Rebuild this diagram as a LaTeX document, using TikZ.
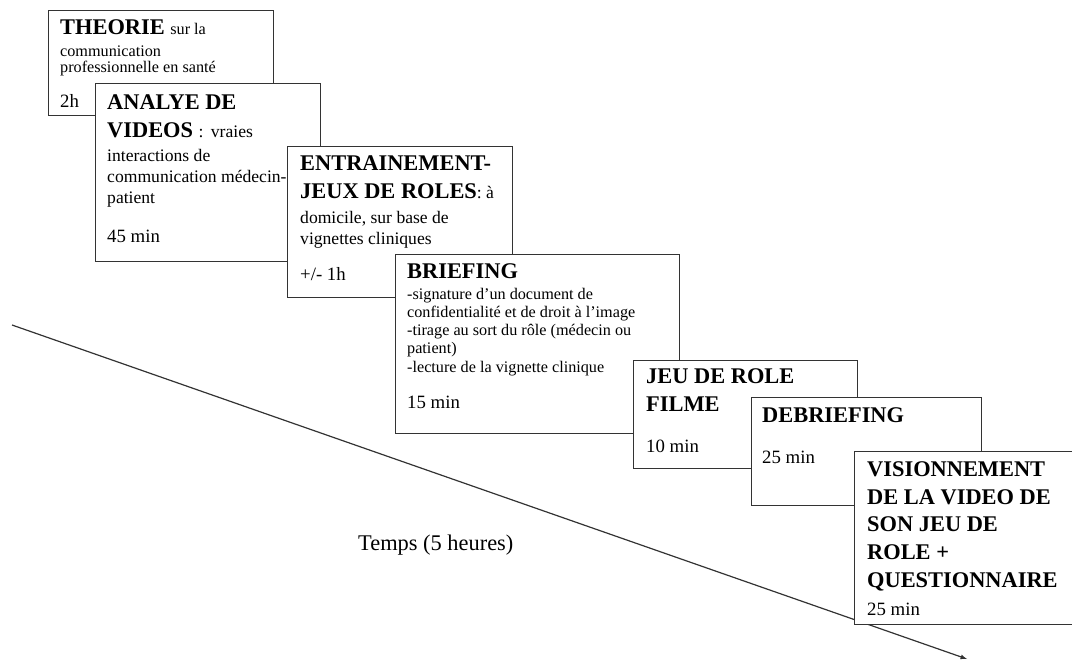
\documentclass[tikz,border=0pt]{standalone}
\usepackage{fontspec}
\setmainfont{Liberation Serif}
\usetikzlibrary{arrows}
\newcommand{\titlefont}{\fontsize{22.4}{27.6}\selectfont\bfseries}
\newcommand{\bodyfont}{\fontsize{17.6}{20.6}\selectfont}
\newcommand{\theofont}{\fontsize{16.2}{16.5}\selectfont}
\newcommand{\brieffont}{\fontsize{16.2}{18.2}\selectfont}
\newcommand{\timefont}{\fontsize{18.8}{22}\selectfont}

\begin{document}
\begin{tikzpicture}[x=1pt,y=-1pt,
  stepbox/.style={draw=black!80, line width=1.2pt, fill=white, anchor=north west, inner sep=0pt},
  steptitle/.style={anchor=base west, inner sep=0pt, align=left, font=\titlefont},
  steptext/.style={anchor=base west, inner sep=0pt, align=left, font=\bodyfont},
  steptime/.style={anchor=base west, inner sep=0pt, font=\timefont}]
\useasboundingbox (0,0) rectangle (1072,661);

% time axis (behind the boxes); multi-line nodes sit on their last baseline
\coordinate (t0) at (12,325);
\coordinate (t1) at (967,659);
\draw[-latex, draw=black!80, line width=1.2pt] (t0) -- (t1);
\node[steptime, font=\fontsize{22.4}{26}\selectfont] (temps) at (358,550) {Temps (5 heures)};

% 1
\node[stepbox, minimum width=225pt, minimum height=105pt] (theorie) at (48,10) {};
\node[steptitle] (theorie-t) at ([shift={(12,25)}]theorie.north west) {THEORIE {\normalfont\theofont sur la}};
\node[steptext, font=\theofont] (theorie-b) at ([shift={(12,63)}]theorie.north west) {communication\\professionnelle en santé};
\node[steptime] (theorie-h) at ([shift={(12,98)}]theorie.north west) {2h};

% 2
\node[stepbox, minimum width=225pt, minimum height=178pt] (videos) at (95,83) {};
\node[steptitle] (videos-t) at ([shift={(12,54)}]videos.north west) {ANALYE DE\\VIDEOS {\normalfont\bodyfont :\, vraies}};
\node[steptext] (videos-b) at ([shift={(12,120)}]videos.north west) {interactions de\\communication médecin-\\patient};
\node[steptime] (videos-h) at ([shift={(12,159)}]videos.north west) {45 min};

% 3
\node[stepbox, minimum width=225pt, minimum height=151pt] (jeux) at (287,146) {};
\node[steptitle] (jeux-t) at ([shift={(13,52)}]jeux.north west) {ENTRAINEMENT-\\JEUX DE ROLES{\normalfont\bodyfont : à}};
\node[steptext] (jeux-b) at ([shift={(13,98)}]jeux.north west) {domicile, sur base de\\vignettes cliniques};
\node[steptime] (jeux-h) at ([shift={(13,134)}]jeux.north west) {+/- 1h};

% 4
\node[stepbox, minimum width=284pt, minimum height=179pt] (briefing) at (395,254) {};
\node[steptitle] (briefing-t) at ([shift={(12,24)}]briefing.north west) {BRIEFING};
\node[steptext, font=\brieffont] (briefing-b) at ([shift={(12,118)}]briefing.north west)
  {-signature d’un document de\\confidentialité et de droit à l’image\\-tirage au sort du rôle (médecin ou\\patient)\\-lecture de la vignette clinique};
\node[steptime] (briefing-h) at ([shift={(12,154)}]briefing.north west) {15 min};

% 5
\node[stepbox, minimum width=224pt, minimum height=108pt] (filme) at (633,360) {};
\node[steptitle] (filme-t) at ([shift={(13,51)}]filme.north west) {JEU DE ROLE\\FILME};
\node[steptime] (filme-h) at ([shift={(13,92)}]filme.north west) {10 min};

% 6
\node[stepbox, minimum width=230pt, minimum height=108pt] (debriefing) at (751,397) {};
\node[steptitle] (debriefing-t) at ([shift={(11,25)}]debriefing.north west) {DEBRIEFING};
\node[steptime] (debriefing-h) at ([shift={(11,66)}]debriefing.north west) {25 min};

% 7
\node[stepbox, minimum width=240pt, minimum height=173pt] (video) at (854,451) {};
\node[steptitle] (video-t) at ([shift={(13,136)}]video.north west) {VISIONNEMENT\\DE LA VIDEO DE\\SON JEU DE\\ROLE +\\QUESTIONNAIRE};
\node[steptime] (video-h) at ([shift={(13,164)}]video.north west) {25 min};
\end{tikzpicture}
\end{document}
